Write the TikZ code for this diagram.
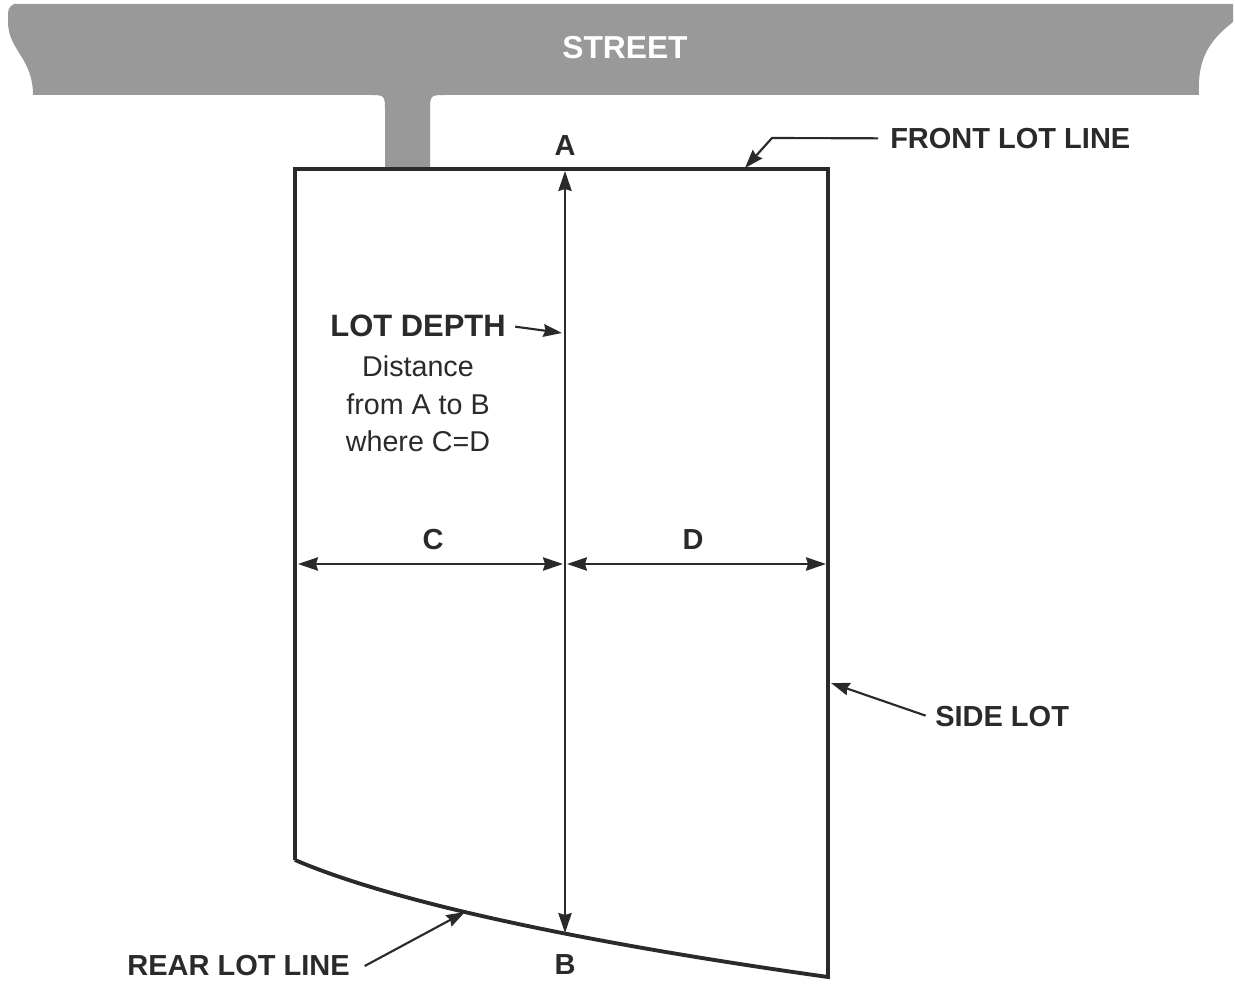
\documentclass[tikz,border=0pt]{standalone}
\usepackage{fontspec}
\setmainfont{Liberation Sans}
\usetikzlibrary{arrows.meta}
\definecolor{ink}{HTML}{2A2A2A}
\definecolor{streetgray}{HTML}{999999}
\begin{document}
\begin{tikzpicture}[x=0.75pt,y=-0.75pt,
  lbl/.style={font=\fontsize{21.75}{26}\selectfont\bfseries, text=ink, inner sep=0pt},
  bodytext/.style={font=\fontsize{21.5}{28}\selectfont, text=ink, align=center, inner sep=0pt},
  lotline/.style={draw=ink, line width=2.9pt, line join=miter},
  dim/.style={draw=ink, line width=1.6pt, {Stealth[length=15pt,width=10pt,inset=1.5pt]}-{Stealth[length=15pt,width=10pt,inset=1.5pt]}},
  lead/.style={draw=ink, line width=1.6pt, -{Stealth[length=14pt,width=9.5pt,inset=1.5pt]}}
]
\useasboundingbox (0,0) rectangle (1235,984);
% street
\fill[streetgray] (14,4) -- (1233,4) -- (1233,22)
  .. controls (1210,40) and (1197,58) .. (1199,95)
  -- (446,95) .. controls (430,95) .. (430,112) -- (430,170) -- (385,170) -- (385,112)
  .. controls (385,95) .. (369,95) -- (33,95)
  .. controls (33,58) and (8,50) .. (8,22) .. controls (8,8) .. (14,4) -- cycle;
\node[lbl, text=white, font=\fontsize{23.8}{28}\selectfont\bfseries] (street) at (625,48) {STREET};
% lot
\coordinate (tl) at (295,169);
\coordinate (tr) at (828,169);
\coordinate (br) at (828,977);
\coordinate (bl) at (295,860);
\draw[lotline] (bl) -- (tl) -- (tr) -- (br) .. controls (600,945) and (400,905) .. (bl);
% depth arrow
\coordinate (Atip) at (565,171);
\coordinate (Btip) at (565,933);
\draw[dim] (Atip) -- (Btip);
\node[lbl] (A) at (565,146) {A};
\node[lbl] (B) at (565,965) {B};
% C and D
\coordinate (cl) at (298,564);
\coordinate (cm1) at (563,564);
\coordinate (cm2) at (567,564);
\coordinate (dr) at (826,564);
\draw[dim] (cl) -- (cm1);
\draw[dim] (cm2) -- (dr);
\node[lbl] (C) at (433,540) {C};
\node[lbl] (D) at (693,540) {D};
% lot depth
\node[lbl, font=\fontsize{23.2}{28}\selectfont\bfseries] (depth) at (418,326) {LOT DEPTH};
\node[bodytext] (desc) at (418,404) {Distance\\from A to B\\where C=D};
\coordinate (depthtip) at (562,333);
\draw[lead] ([xshift=7pt,yshift=-0.5pt]depth.east) -- (depthtip);
% front lot line
\node[lbl, anchor=west] (front) at (890,139) {FRONT LOT LINE};
\coordinate (fbend) at (772,138);
\coordinate (ftip) at (745,168);
\draw[lead] ([xshift=-9pt,yshift=0.5pt]front.west) -- (fbend) -- (ftip);
% side lot
\node[lbl, anchor=west] (side) at (935,717) {SIDE LOT};
\coordinate (stip) at (831,683);
\draw[lead] ([xshift=-7pt,yshift=1pt]side.west) -- (stip);
% rear lot line
\node[lbl, anchor=east] (rear) at (350,966) {REAR LOT LINE};
\coordinate (rtip) at (465,912);
\draw[lead] ([xshift=11pt]rear.east) -- (rtip);
\end{tikzpicture}
\end{document}
